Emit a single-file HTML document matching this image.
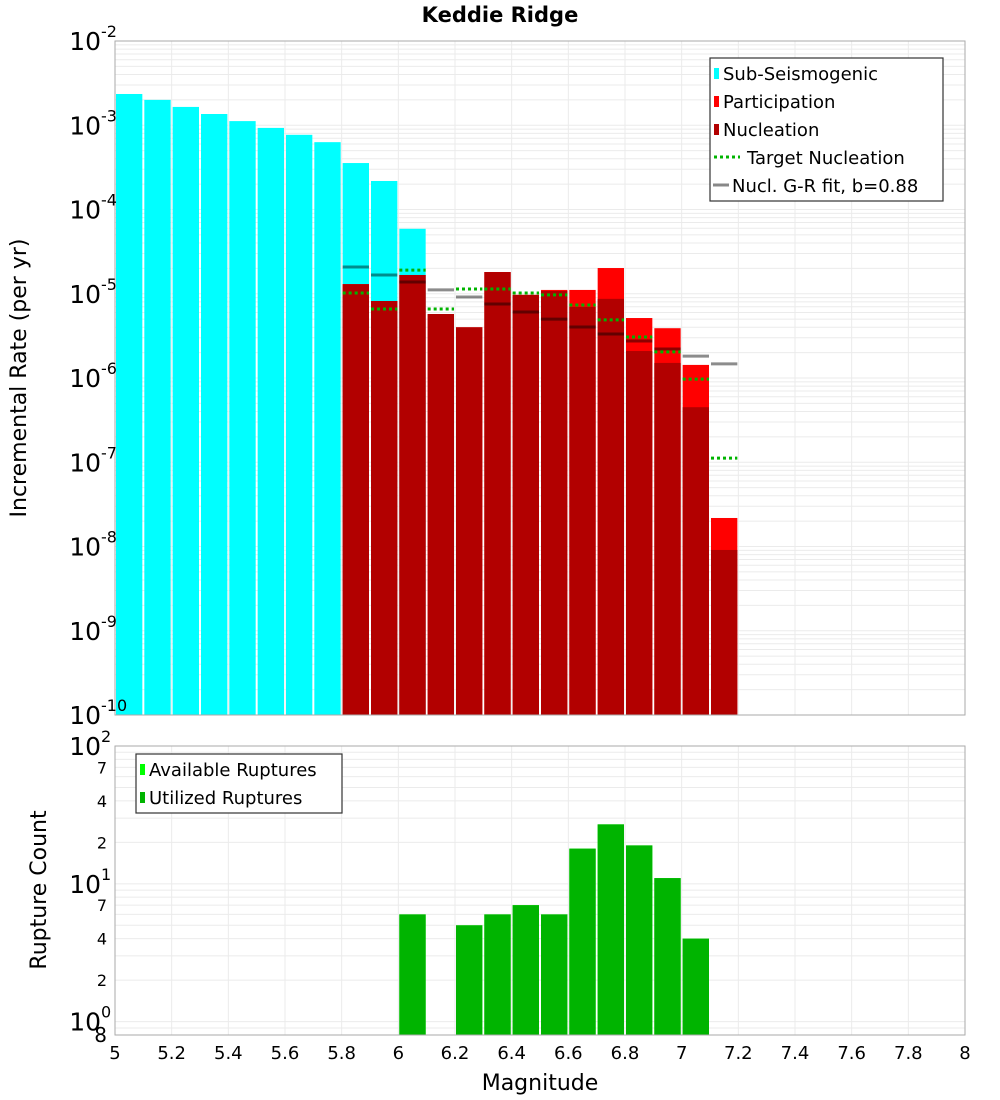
<!DOCTYPE html>
<html><head><meta charset="utf-8"><style>
body{margin:0;background:#fff;}
svg{display:block;font-family:"DejaVu Sans","Liberation Sans",sans-serif;}
</style></head><body>
<svg id="c" width="1000" height="1100" viewBox="0 0 1000 1100" xmlns="http://www.w3.org/2000/svg"></svg>
<script>
const mags=[5.0,5.1,5.2,5.3,5.4,5.5,5.6,5.7,5.8,5.9,6.0,6.1,6.2,6.3,6.4,6.5,6.6,6.7,6.8,6.9,7.0,7.1];
const subSeis=[2.35e-3,2.0e-3,1.65e-3,1.36e-3,1.12e-3,9.3e-4,7.7e-4,6.3e-4,3.56e-4,2.18e-4,5.9e-5,null,null,null,null,null,null,null,null,null,null,null];
const participation=[null,null,null,null,null,null,null,null,1.30e-5,8.2e-6,1.67e-5,5.75e-6,4.0e-6,1.81e-5,9.7e-6,1.11e-5,1.11e-5,2.02e-5,5.15e-6,3.9e-6,1.43e-6,2.18e-8];
const nucleation=[null,null,null,null,null,null,null,null,1.30e-5,8.2e-6,1.67e-5,5.75e-6,4.0e-6,1.81e-5,9.7e-6,1.08e-5,6.97e-6,8.7e-6,2.09e-6,1.51e-6,4.5e-7,9.1e-9];
const targetNucl=[null,null,null,null,null,null,null,null,1.02e-5,6.6e-6,1.91e-5,6.6e-6,1.14e-5,1.14e-5,1.02e-5,9.7e-6,7.35e-6,4.9e-6,3.07e-6,2.04e-6,9.7e-7,1.12e-7];
const grFit=[null,null,null,null,null,null,null,null,2.08e-5,1.67e-5,1.38e-5,1.11e-5,9.15e-6,7.56e-6,6.07e-6,5.0e-6,4.03e-6,3.33e-6,2.75e-6,2.21e-6,1.82e-6,1.47e-6];
const countMags=[6.0,6.2,6.3,6.4,6.5,6.6,6.7,6.8,6.9,7.0];
const available=[6,5,6,7,6,18,27,19,11,4];
const utilized=[6,5,6,7,6,18,27,19,11,4];
const xTicks=[5,5.2,5.4,5.6,5.8,6,6.2,6.4,6.6,6.8,7,7.2,7.4,7.6,7.8,8];

const svg=document.getElementById('c');
const NS='http://www.w3.org/2000/svg';
function mk(tag,attrs,parent){const e=document.createElementNS(NS,tag);for(const k in attrs)e.setAttribute(k,attrs[k]);(parent||svg).appendChild(e);return e;}
const L=115,R=965;
const X=m=>L+(m-5)/3*(R-L);
const T0=41,T1=715;
const YT=v=>T0+(-2-Math.log10(v))/8*(T1-T0);
const B0=746,B1=1035;
const bDec=(B1-B0)/(2-Math.log10(0.8));
const YB=v=>B0+(2-Math.log10(v))*bDec;
const bw=(X(5.1)-X(5));

// backgrounds & grids
function grid(top,bot,yfn,decs){
  for(const d of decs){for(let k=1;k<10;k++){const v=k*Math.pow(10,d);const y=yfn(v);if(y<top-0.5||y>bot+0.5)continue;
    const g=mk('line',{x1:L,x2:R,y1:y,y2:y,stroke:'#ebebeb','stroke-width':1});
    }}
  for(const t of xTicks){const x=X(t);const g=mk('line',{x1:x,x2:x,y1:top,y2:bot,stroke:'#ebebeb','stroke-width':1});
    }
}
grid(T0,T1,YT,[-10,-9,-8,-7,-6,-5,-4,-3,-2]);
grid(B0,B1,YB,[-1,0,1,2]);

// top bars
mags.forEach((m,i)=>{
  const x=X(m)+1,w=bw-2;
  if(subSeis[i]!=null){const r=mk('rect',{x:x,y:YT(subSeis[i]),width:w,height:T1-YT(subSeis[i]),fill:'#00ffff'});
    }
  if(participation[i]!=null){const r=mk('rect',{x:x,y:YT(participation[i]),width:w,height:T1-YT(participation[i]),fill:'#ff0000'});
    }
  if(nucleation[i]!=null){const r=mk('rect',{x:x,y:YT(nucleation[i]),width:w,height:T1-YT(nucleation[i]),fill:'#b20000'});
    }
});
mags.forEach((m,i)=>{
  const x=X(m);
  if(grFit[i]!=null){const l=mk('line',{x1:x+1,x2:x+bw-1,y1:YT(grFit[i]),y2:YT(grFit[i]),stroke:'rgba(0,0,0,0.45)','stroke-width':3});
    }
  if(targetNucl[i]!=null){const l=mk('line',{x1:x+1,x2:x+bw-1,y1:YT(targetNucl[i]),y2:YT(targetNucl[i]),stroke:'#00b400','stroke-width':3,'stroke-dasharray':'3,3'});
    }
});

// bottom bars
countMags.forEach((m,i)=>{
  const x=X(m)+1,w=bw-2;
  const a=mk('rect',{x:x,y:YB(available[i]),width:w,height:B1-YB(available[i]),fill:'#00ff00'});
  
  const u=mk('rect',{x:x,y:YB(utilized[i]),width:w,height:B1-YB(utilized[i]),fill:'#00b400'});
  
});

// frames
for(const [t,b,n] of [[T0,T1,'top-plot-frame'],[B0,B1,'bottom-plot-frame']]){
  const f=mk('rect',{x:L,y:t,width:R-L,height:b-t,fill:'none',stroke:'#aaaaaa','stroke-width':1});
  }

// top y tick labels
function powLabel(y,exp,name){
  const t=mk('text',{x:101,y:y+9,'text-anchor':'end','font-size':25,fill:'#000'});t.textContent='10';
  
  const s=mk('text',{x:101,y:y-4,'font-size':16,fill:'#000'});s.textContent=exp;
  
}
for(let d=-2;d>=-10;d--)powLabel(YT(Math.pow(10,d)),String(d),'y-tick-label');
powLabel(YB(100),'2','count-tick-label');powLabel(YB(10),'1','count-tick-label');powLabel(YB(1),'0','count-tick-label');
for(const v of [70,40,20,7,4,2,0.8]){
  const t=mk('text',{x:107,y:YB(v)+6,'text-anchor':'end','font-size':16,fill:'#000'});t.textContent=v===0.8?'8':String(v<10?v:v/10);
  if(v===0.8){t.setAttribute('font-size','20');t.setAttribute('y',YB(v)+7);}
  
}
// x tick labels
for(const v of xTicks){const t=mk('text',{x:X(v),y:1059,'text-anchor':'middle','font-size':18,fill:'#000'});t.textContent=String(v);
  }

// titles
let t=mk('text',{x:500,y:22,'text-anchor':'middle','font-size':21,'font-weight':'bold',fill:'#000'});t.textContent='Keddie Ridge';

t=mk('text',{x:0,y:0,'text-anchor':'middle','font-size':22,fill:'#000',transform:'translate(26,378) rotate(-90)'});t.textContent='Incremental Rate (per yr)';

t=mk('text',{x:0,y:0,'text-anchor':'middle','font-size':22,fill:'#000',transform:'translate(46,890) rotate(-90)'});t.textContent='Rupture Count';

t=mk('text',{x:540,y:1090,'text-anchor':'middle','font-size':22,fill:'#000'});t.textContent='Magnitude';


// legends
function legend(x,y,w,h,items,name){
  const g=mk('g',{});
  mk('rect',{x:x,y:y,width:w,height:h,fill:'#fff',stroke:'#333','stroke-width':1.2},g);
  items.forEach((it,i)=>{
    const cy=y+15+i*28;
    if(it.type==='box'){mk('rect',{x:x+4,y:cy-5,width:5,height:11,fill:it.c},g);}
    else if(it.type==='dot'){mk('line',{x1:x+4,x2:x+30,y1:cy,y2:cy,stroke:it.c,'stroke-width':3,'stroke-dasharray':'3,3'},g);}
    else {mk('line',{x1:x+3,x2:x+19,y1:cy,y2:cy,stroke:it.c,'stroke-width':3},g);}
    const tx=mk('text',{x:x+(it.type==='dot'?37:it.type==='line'?22:13),y:cy+7,'font-size':18,fill:'#000'},g);tx.textContent=it.t;
    
  });
}
legend(710,58,233,143,[{type:'box',c:'#00ffff',t:'Sub-Seismogenic'},{type:'box',c:'#ff0000',t:'Participation'},{type:'box',c:'#b20000',t:'Nucleation'},{type:'dot',c:'#00b400',t:'Target Nucleation'},{type:'line',c:'#888',t:'Nucl. G-R fit, b=0.88'}],'rate-legend');
legend(136,754,206,59,[{type:'box',c:'#00ff00',t:'Available Ruptures'},{type:'box',c:'#00b400',t:'Utilized Ruptures'}],'count-legend');
</script>
</body></html>
